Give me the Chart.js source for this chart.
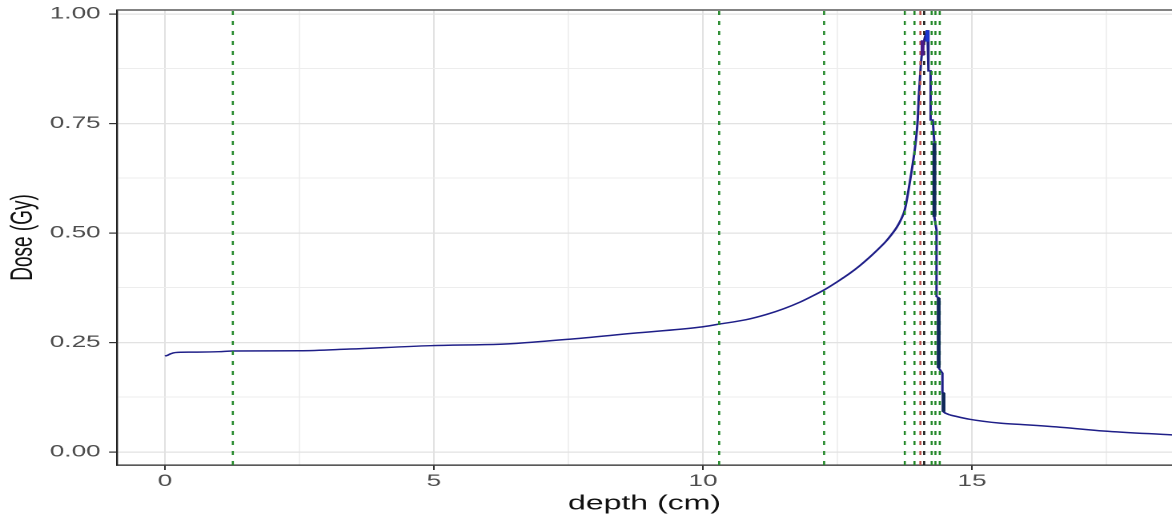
<!DOCTYPE html>
<html><head><meta charset="utf-8">
<script src="https://cdn.jsdelivr.net/npm/chart.js@4.4.1/dist/chart.umd.min.js"></script>
<style>
html,body{margin:0;padding:0;background:#fff;overflow:hidden;width:1172px;height:518px;}
#wrap{position:absolute;left:0;top:0;width:732px;height:518px;transform:scaleX(1.60109);transform-origin:0 0;}
canvas{display:block;}
</style></head><body>
<div id="wrap"><canvas id="c" width="732" height="518"></canvas></div>
<script>
// ---- data ----
// build-up and rise to the Bragg peak
const riseDepth = [0, 0.05, 0.1, 0.19, 0.5, 1.0, 1.26, 2.5, 3.44, 4.93, 6.23, 6.54, 7.47, 8.7, 9.94, 10.3, 10.8, 11.18, 11.5, 11.8, 12.0, 12.25, 12.5, 12.73, 12.92, 13.1, 13.23, 13.4, 13.5, 13.6, 13.68, 13.75, 13.85, 13.95, 13.99, 14.01, 14.05, 14.08, 14.12, 14.17];
const riseDose  = [0.219, 0.221, 0.224, 0.227, 0.228, 0.229, 0.2306, 0.231, 0.235, 0.2427, 0.246, 0.248, 0.257, 0.271, 0.285, 0.292, 0.302, 0.314, 0.327, 0.342, 0.354, 0.370, 0.389, 0.408, 0.426, 0.445, 0.460, 0.481, 0.496, 0.513, 0.531, 0.553, 0.621, 0.705, 0.758, 0.811, 0.887, 0.920, 0.945, 0.963];
// distal fall-off (stair-stepped)
const fallDepth = [14.17, 14.19, 14.19, 14.23, 14.23, 14.27, 14.30, 14.30, 14.34, 14.34, 14.38, 14.38, 14.45, 14.45, 14.47, 14.47, 14.50, 14.59];
const fallDose  = [0.963, 0.930, 0.870, 0.870, 0.758, 0.758, 0.705, 0.537, 0.507, 0.355, 0.352, 0.192, 0.180, 0.135, 0.135, 0.092, 0.089, 0.0845];
// tail beyond the peak
const tailDepth = [14.59, 14.96, 15.52, 15.95, 16.7, 17.44, 18.72];
const tailDose  = [0.0845, 0.0746, 0.0658, 0.0625, 0.056, 0.048, 0.039];
// steep steps that render heavier in the reference: [depth, doseTop, doseBottom]
const stepDepth = [14.30, 14.38, 14.47];
const stepTop   = [0.705, 0.352, 0.135];
const stepBot   = [0.537, 0.192, 0.092];
const peakDepth = [14.08, 14.17];
const peakTop   = [0.940, 0.963];
const peakBot   = [0.905, 0.937];
const greenLines = [1.26, 10.30, 12.25, 13.75, 13.93, 14.25, 14.32, 14.40];
const redLines   = [14.04];
const blackLines = [14.11];
const xMajor = [0, 5, 10, 15];
const xGrid  = [0, 2.5, 5, 7.5, 10, 12.5, 15, 17.5];
const yMajor = [0, 0.25, 0.5, 0.75, 1.0];
const yGrid  = [0, 0.125, 0.25, 0.375, 0.5, 0.625, 0.75, 0.875, 1.0];
const xMin = -0.892, xMax = 18.717, yMin = -0.0297, yMax = 1.0091;

const FONT = "'Liberation Sans', Arial, sans-serif";
const CURVE = '#1f1f88';
const pts = (xs, ys) => xs.map((d, i) => ({x: d, y: ys[i]}));

function vline(v, color) {
  return {data: [{x: v, y: yMin}, {x: v, y: yMax}], borderColor: color, borderWidth: 1.3,
          borderDash: [4, 6], showLine: true, pointRadius: 0, fill: false};
}
function seg(x, a, b, color, w) {
  return {data: [{x: x, y: a}, {x: x, y: b}], borderColor: color, borderWidth: w,
          showLine: true, pointRadius: 0, fill: false};
}
function curve(xs, ys, smooth) {
  return {data: pts(xs, ys), borderColor: CURVE, borderWidth: 1.5, showLine: true,
          pointRadius: 0, fill: false, cubicInterpolationMode: smooth ? 'monotone' : 'default', tension: 0};
}

const datasets = [];
stepDepth.forEach((d, i) => datasets.push(seg(d, stepTop[i], stepBot[i], '#10285a', 2.4)));
datasets.push(seg(peakDepth[0], peakTop[0], peakBot[0], '#4a1a8a', 2.4));
datasets.push(seg(peakDepth[1], peakTop[1], peakBot[1], '#1a34d0', 2.4));
blackLines.forEach(v => datasets.push(vline(v, '#1a1a1a')));
redLines.forEach(v => datasets.push(vline(v, '#b8504a')));
greenLines.forEach(v => datasets.push(vline(v, '#24892a')));
datasets.push(curve(riseDepth, riseDose, true));
datasets.push(curve(fallDepth, fallDose, false));
datasets.push(curve(tailDepth, tailDose, true));

const topBorder = {
  id: 'topBorder',
  afterDraw(chart) {
    const {ctx, chartArea} = chart;
    ctx.save();
    ctx.strokeStyle = '#5a5a5a';
    ctx.lineWidth = 1.6;
    ctx.beginPath();
    ctx.moveTo(chartArea.left, chartArea.top);
    ctx.lineTo(chartArea.right, chartArea.top);
    ctx.stroke();
    ctx.restore();
  }
};

new Chart(document.getElementById('c'), {
  type: 'scatter',
  data: {datasets},
  plugins: [topBorder],
  options: {
    responsive: false,
    animation: false,
    devicePixelRatio: 2,
    layout: {padding: {top: 10, left: 0, right: 0, bottom: 0}},
    plugins: {legend: {display: false}, tooltip: {enabled: false}},
    scales: {
      x: {
        type: 'linear', min: xMin, max: xMax,
        afterBuildTicks: s => { s.ticks = xGrid.map(v => ({value: v})); },
        afterFit: s => { s.height = 53; s.paddingLeft = 0; s.paddingRight = 0; s.paddingTop = 0; s.paddingBottom = 0; },
        ticks: {autoSkip: false, maxRotation: 0, padding: 1.5, color: '#4d4d4d',
                font: {family: FONT, size: 16.3},
                callback: v => xMajor.includes(v) ? String(v) : ''},
        grid: {
          color: c => (c.tick && xMajor.includes(c.tick.value)) ? '#e2e2e2' : '#ededed',
          lineWidth: c => (c.tick && xMajor.includes(c.tick.value)) ? 1.0 : 0.8,
          tickColor: c => (c.tick && xMajor.includes(c.tick.value)) ? '#333333' : 'rgba(0,0,0,0)',
          tickLength: 5, drawTicks: true
        },
        border: {display: true, color: '#222222', width: 1.2},
        title: {display: true, text: 'depth (cm)', color: '#111',
                font: {family: FONT, size: 20}, padding: {top: 0, bottom: 2}}
      },
      y: {
        type: 'linear', min: yMin, max: yMax,
        afterBuildTicks: s => { s.ticks = yGrid.map(v => ({value: v})); },
        afterFit: s => { s.width = 73.1; s.paddingLeft = 0; s.paddingRight = 0; s.paddingTop = 0; s.paddingBottom = 0; },
        ticks: {autoSkip: false, padding: 5.3, color: '#4d4d4d',
                font: {family: FONT, size: 16.3},
                callback: v => yMajor.includes(v) ? v.toFixed(2) : ''},
        grid: {
          color: c => (c.tick && yMajor.includes(c.tick.value)) ? '#e2e2e2' : '#ededed',
          lineWidth: c => (c.tick && yMajor.includes(c.tick.value)) ? 1.2 : 1.0,
          tickColor: c => (c.tick && yMajor.includes(c.tick.value)) ? '#333333' : 'rgba(0,0,0,0)',
          tickLength: 5, drawTicks: true
        },
        border: {display: true, color: '#222222', width: 1.2},
        title: {display: true, text: 'Dose (Gy)', color: '#111',
                font: {family: FONT, size: 19}, padding: {top: 3.3, bottom: 0}}
      }
    }
  }
});
</script>
</body></html>
